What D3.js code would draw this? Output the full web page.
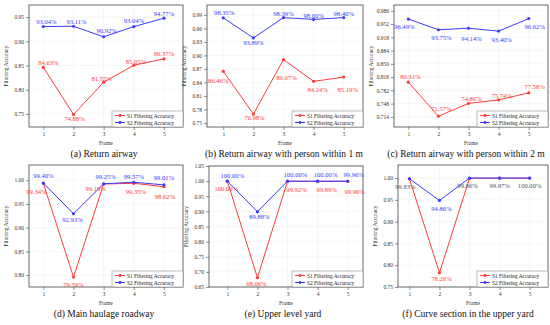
<!DOCTYPE html>
<html>
<head>
<meta charset="utf-8">
<script src="https://cdn.jsdelivr.net/npm/d3@7"></script>
<style>
	body { margin: 0; background: #fff; }
	svg { display: block; }
	text { font-family: "Liberation Serif", "Times New Roman", serif; }
</style>
</head>
<body>
<div id="chart"></div>
<script>
// frames on the x axis
const frames = [1, 2, 3, 4, 5];

// filtering accuracy in percent, one pair of series per scene
const s1Return = [84.63, 74.88, 81.55, 85.05, 86.37];
const s2Return = [93.04, 93.11, 90.92, 93.04, 94.77];
const s1Person1m = [86.46, 76.98, 89.07, 84.24, 85.19];
const s2Person1m = [98.35, 93.89, 98.39, 98.00, 98.40];
const s1Person2m = [80.31, 71.57, 74.86, 75.74, 77.58];
const s2Person2m = [96.49, 93.75, 94.14, 93.40, 96.62];
const s1Haulage = [99.34, 79.59, 99.19, 99.35, 98.62];
const s2Haulage = [99.40, 92.93, 99.25, 99.57, 99.01];
const s1Upper = [100.00, 68.06, 99.92, 99.89, 99.96];
const s2Upper = [100.00, 89.88, 100.00, 100.00, 99.96];
const s1Curve = [99.83, 78.26, 99.96, 99.97, 100.00];
const s2Curve = [99.85, 94.86, 100.00, 100.00, 100.00];

// y tick values
const ticksReturn = [0.75, 0.80, 0.85, 0.90, 0.95];
const ticksPerson1m = [0.75, 0.78, 0.81, 0.84, 0.87, 0.90, 0.93, 0.96, 0.99];
const ticksPerson2m = [0.714, 0.748, 0.782, 0.816, 0.850, 0.884, 0.918, 0.952, 0.986];
const ticksHaulage = [0.80, 0.85, 0.90, 0.95, 1.00];
const ticksUpper = [0.65, 0.70, 0.75, 0.80, 0.85, 0.90, 0.95, 1.00, 1.05];
const ticksCurve = [0.75, 0.80, 0.85, 0.90, 0.95, 1.00];

const captions = [
	'(a) Return airway',
	'(b) Return airway with person within 1 m',
	'(c) Return airway with person within 2 m',
	'(d) Main haulage roadway',
	'(e) Upper level yard',
	'(f) Curve section in the upper yard'
];
const seriesNames = ['S1 Filtering Accuracy', 'S2 Filtering Accuracy'];

const RED = '#ff3b3b';
const BLUE = '#3b3bff';

//Layout of each panel: plot box, domains and label offsets (px from the point)
const panels = [
	{ s1: s1Return, s2: s2Return, ticks: ticksReturn, fmt: '.2f',
	  box: [29, 5, 183, 127], xDom: [0.525, 5.63], yDom: [0.723, 0.975], capX: 104, capY: 154,
	  s1Off: [[5,-5],[1,4],[-2,-4],[2,-4],[0,-5]], s2Off: [[3,-5],[3,-5],[3,-6],[0,-6],[0,-5]] },
	{ s1: s1Person1m, s2: s2Person1m, ticks: ticksPerson1m, fmt: '.2f',
	  box: [207, 5, 363, 127], xDom: [0.46, 5.64], yDom: [0.741, 1.012], capX: 284, capY: 154,
	  s1Off: [[-5,9],[1,3],[3,18],[4,8],[4,12]], s2Off: [[1,-5],[0,5],[0,-4],[0,-4],[0,-4]] },
	{ s1: s1Person2m, s2: s2Person2m, ticks: ticksPerson2m, fmt: '.3f',
	  box: [394, 5, 548, 127], xDom: [0.525, 5.64], yDom: [0.688, 1.001], capX: 466, capY: 154,
	  s1Off: [[2,-6],[3,-8],[3,-5],[3,-4],[6,-6]], s2Off: [[-4,7],[3,8],[3,10],[3,8],[6,8]] },
	{ s1: s1Haulage, s2: s2Haulage, ticks: ticksHaulage, fmt: '.2f',
	  box: [29, 165, 183, 287], xDom: [0.525, 5.63], yDom: [0.775, 1.032], capX: 104, capY: 314,
	  s1Off: [[-7,8],[0,7],[-8,4],[2,8],[1,10]], s2Off: [[0,-8],[-1,6],[2,-7],[0,-6],[0,-7]] },
	{ s1: s1Upper, s2: s2Upper, ticks: ticksUpper, fmt: '.2f',
	  box: [209, 166, 363, 287], xDom: [0.39, 5.51], yDom: [0.65, 1.05], capX: 283, capY: 314,
	  s1Off: [[-1,7],[-1,6],[9,8],[9,8],[7,10]], s2Off: [[5,-6],[2,5],[8,-7],[8,-7],[6,-7]] },
	{ s1: s1Curve, s2: s2Curve, ticks: ticksCurve, fmt: '.2f',
	  box: [398, 165, 548, 287], xDom: [0.62, 5.61], yDom: [0.75, 1.03], capX: 468, capY: 314,
	  s1Off: [[-4,8],[2,6],[-2,7],[0,7],[0,7]], s2Off: [null,[2,8],null,null,null],
	  s1LabelColor: ['#555', RED, '#555', '#555', '#555'] }
];

const svg = d3.select('#chart').append('svg')
	.attr('width', 550)
	.attr('height', 325);

panels.forEach((p, i) => {
	const [x0, y0, x1, y1] = p.box;
	const g = svg.append('g');

	const xScale = d3.scaleLinear().domain(p.xDom).range([x0, x1]);
	const yScale = d3.scaleLinear().domain(p.yDom).range([y1, y0]);

	//faint grid
	g.append('g').selectAll('line.vg')
		.data(frames).join('line')
		.attr('x1', d => xScale(d)).attr('x2', d => xScale(d))
		.attr('y1', y0).attr('y2', y1)
		.attr('stroke', '#ececec').attr('stroke-width', 0.5);
	g.append('g').selectAll('line.hg')
		.data(p.ticks).join('line')
		.attr('x1', x0).attr('x2', x1)
		.attr('y1', d => yScale(d)).attr('y2', d => yScale(d))
		.attr('stroke', '#ececec').attr('stroke-width', 0.5);

	//axes
	const yAxis = d3.axisLeft(yScale)
		.tickValues(p.ticks)
		.tickFormat(d3.format(p.fmt))
		.tickSize(3).tickPadding(2);
	const xAxis = d3.axisBottom(xScale)
		.tickValues(frames)
		.tickFormat(d3.format('d'))
		.tickSize(3).tickPadding(2);

	const ya = g.append('g')
		.attr('transform', `translate(${x0},0)`)
		.call(yAxis);
	const xa = g.append('g')
		.attr('transform', `translate(0,${y1})`)
		.call(xAxis);
	[ya, xa].forEach(a => {
		a.select('.domain').remove();
		a.selectAll('line').attr('stroke', '#444').attr('stroke-width', 0.6);
		a.selectAll('text')
			.attr('fill', '#333')
			.style('font-size', '5.5px')
			.style('font-family', '"Liberation Serif", serif');
	});

	//plot box
	g.append('rect')
		.attr('x', x0).attr('y', y0)
		.attr('width', x1 - x0).attr('height', y1 - y0)
		.attr('fill', 'none')
		.attr('stroke', '#444')
		.attr('stroke-width', 0.8);

	//axis titles
	g.append('text')
		.attr('transform', `translate(${x0 - 21},${(y0 + y1) / 2}) rotate(-90)`)
		.attr('text-anchor', 'middle')
		.attr('fill', '#333')
		.style('font-size', '5.5px')
		.text('Filtering Accuracy');
	g.append('text')
		.attr('x', (x0 + x1) / 2)
		.attr('y', y1 + 18)
		.attr('text-anchor', 'middle')
		.attr('fill', '#333')
		.style('font-size', '5.5px')
		.text('Frame');

	//lines and points
	const line = d3.line()
		.x((d, j) => xScale(frames[j]))
		.y(d => yScale(d / 100));

	const series = [
		{ vals: p.s1, color: RED, off: p.s1Off, labelColor: p.s1LabelColor },
		{ vals: p.s2, color: BLUE, off: p.s2Off }
	];

	series.forEach(s => {
		g.append('path')
			.datum(s.vals)
			.attr('d', line)
			.attr('fill', 'none')
			.attr('stroke', s.color)
			.attr('stroke-width', 1);
		g.selectAll(null)
			.data(s.vals).join('circle')
			.attr('cx', (d, j) => xScale(frames[j]))
			.attr('cy', d => yScale(d / 100))
			.attr('r', 1.6)
			.attr('fill', s.color);
	});

	series.forEach(s => {
		g.selectAll(null)
			.data(s.vals.map((v, j) => ({ v, j })).filter(d => s.off[d.j]))
			.join('text')
			.attr('x', d => xScale(frames[d.j]) + s.off[d.j][0])
			.attr('y', d => yScale(d.v / 100) + s.off[d.j][1])
			.attr('text-anchor', 'middle')
			.attr('dominant-baseline', 'central')
			.attr('fill', d => s.labelColor ? s.labelColor[d.j] : s.color)
			.style('font-size', '6.6px')
			.text(d => d3.format('.2f')(d.v) + '%');
	});

	//legend
	const lw = 71, lh = 16;
	const lg = g.append('g').attr('transform', `translate(${x1 - lw},${y1 - lh})`);
	lg.append('rect')
		.attr('width', lw).attr('height', lh)
		.attr('fill', '#fff')
		.attr('stroke', '#777')
		.attr('stroke-width', 0.5);
	series.forEach((s, k) => {
		const yy = 4.5 + k * 7;
		lg.append('line')
			.attr('x1', 3).attr('x2', 13)
			.attr('y1', yy).attr('y2', yy)
			.attr('stroke', s.color).attr('stroke-width', 1);
		lg.append('circle')
			.attr('cx', 8).attr('cy', yy).attr('r', 1.4)
			.attr('fill', s.color);
		lg.append('text')
			.attr('x', 15).attr('y', yy)
			.attr('dominant-baseline', 'central')
			.attr('fill', '#222')
			.style('font-size', '5.4px')
			.text(seriesNames[k]);
	});

	//caption
	g.append('text')
		.attr('x', p.capX)
		.attr('y', p.capY)
		.attr('text-anchor', 'middle')
		.attr('dominant-baseline', 'central')
		.attr('fill', '#111')
		.style('font-size', '9.5px')
		.text(captions[i]);
});
</script>
</body>
</html>
